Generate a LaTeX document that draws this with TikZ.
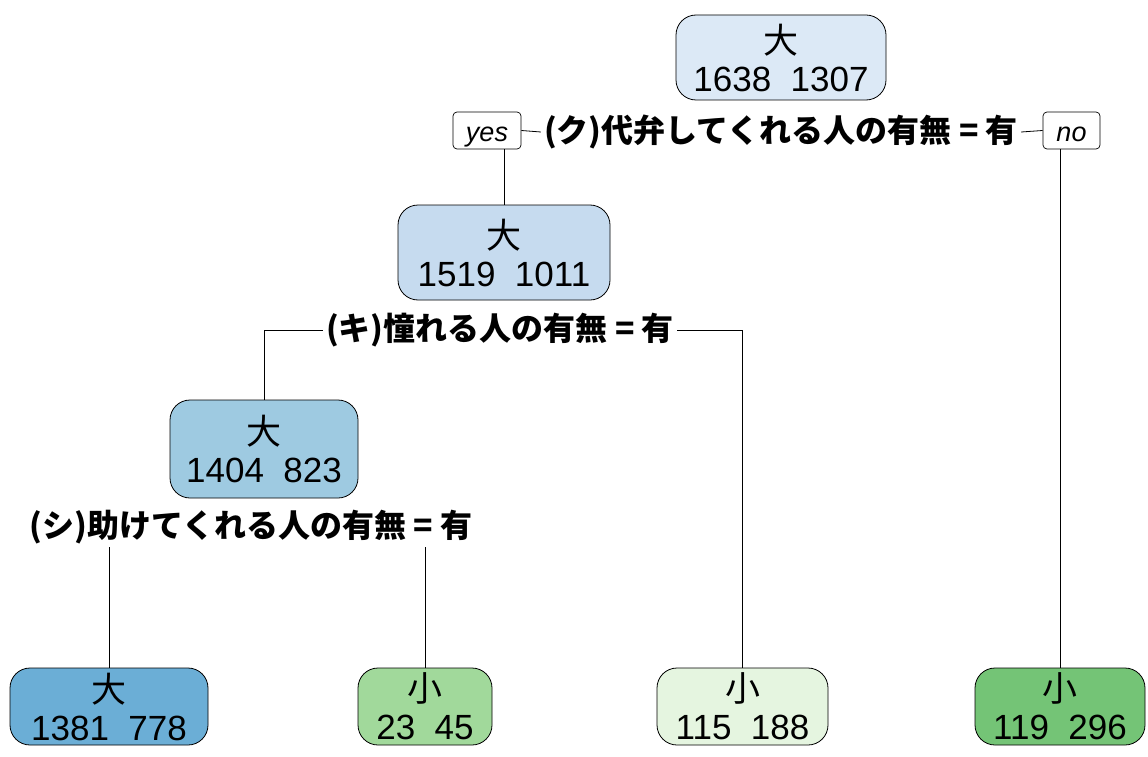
\documentclass[tikz,border=0pt]{standalone}
\usepackage{fontspec}
\setmainfont{Liberation Sans}
\newfontfamily\cjk{Noto Sans CJK JP}
\definecolor{c1}{RGB}{220,233,246}
\definecolor{c2}{RGB}{198,219,239}
\definecolor{c3}{RGB}{158,202,225}
\definecolor{c4}{RGB}{107,174,214}
\definecolor{g1}{RGB}{161,217,155}
\definecolor{g2}{RGB}{229,245,224}
\definecolor{g3}{RGB}{116,196,118}
\begin{document}
\begin{tikzpicture}[x=1pt,y=-1pt,
  tbox/.style={draw=black,line width=0.8pt,rounded corners=20pt,inner sep=0pt,align=center,
    font=\fontsize{35}{38}\selectfont},
  split/.style={inner sep=3pt,font=\cjk\bfseries\fontsize{32}{34}\selectfont},
  yn/.style={draw=black,line width=0.7pt,rounded corners=4pt,inner sep=0pt,minimum height=37pt,
    text height=15pt,text depth=0pt,
    font=\itshape\fontsize{27}{28}\selectfont},
  edge/.style={draw=black,line width=0.8pt}]
\useasboundingbox (0,0) rectangle (1148,757);
\fill[white] (0,0) rectangle (1148,757);
% internal nodes
\node[tbox,fill=c1,minimum width=210pt,minimum height=85pt] (n1) at (781,57.5) {{\cjk 大}\\1638\ \ 1307};
\node[tbox,fill=c2,minimum width=212pt,minimum height=95pt] (n2) at (504,252.5) {{\cjk 大}\\1519\ \ 1011};
\node[tbox,fill=c3,minimum width=188pt,minimum height=98pt] (n4) at (264,449) {{\cjk 大}\\1404\ \ 823};
% leaves
\node[tbox,fill=c4,minimum width=198pt,minimum height=77pt] (l1) at (109,706.5) {{\cjk 大}\\1381\ \ 778};
\node[tbox,fill=g1,minimum width=134pt,minimum height=77pt] (l2) at (425,706.5) {{\cjk 小}\\23\ \ 45};
\node[tbox,fill=g2,minimum width=171pt,minimum height=77pt] (l3) at (742.5,706.5) {{\cjk 小}\\115\ \ 188};
\node[tbox,fill=g3,minimum width=170pt,minimum height=77pt] (l4) at (1060,706.5) {{\cjk 小}\\119\ \ 296};
% split labels
\node[split] (s1) at (781,132) {(ク)代弁してくれる人の有無 = 有};
\node[split] (s2) at (500,330) {(キ)憧れる人の有無 = 有};
\node[split] (s3) at (251,527) {(シ)助けてくれる人の有無 = 有};
\node[yn,minimum width=68pt] (yes) at (487,130.5) {\raisebox{-4pt}{yes}};
\node[yn,minimum width=57pt] (no) at (1071.5,130.5) {\raisebox{-4pt}{no}};
% connectors
\draw[edge] (yes.east) -- (s1.west);
\draw[edge] (s1.east) -- (no.west);
\draw[edge] (n2.north) -- (n2.north |- yes.south);
\draw[edge] (l4.north) -- (l4.north |- no.south);
\draw[edge] (n4.north) |- (s2.west);
\draw[edge] (l3.north) |- (s2.east);
\draw[edge] (l1.north) -- (l1.north |- s3.south);
\draw[edge] (l2.north) -- (l2.north |- s3.south);
\end{tikzpicture}
\end{document}
